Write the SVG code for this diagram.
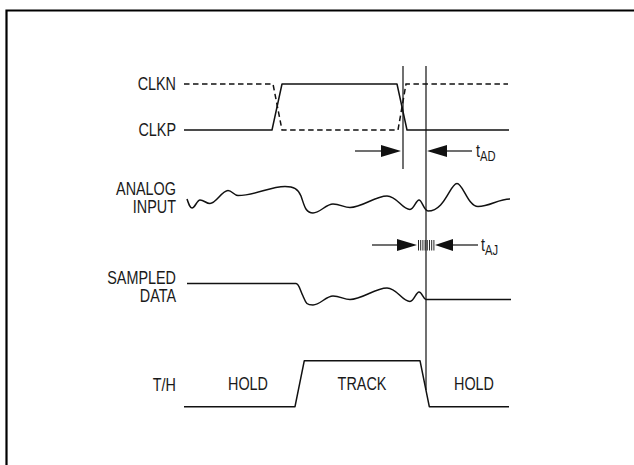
<svg xmlns="http://www.w3.org/2000/svg" width="634" height="465" viewBox="0 0 634 465">
<style>
text{font-family:"Liberation Sans",Arial,sans-serif;font-size:18px;fill:#1a1a1a}
.lbl{text-anchor:end}
.ctr{text-anchor:middle}
.sub{font-size:14px}
.w{fill:none;stroke:#111;stroke-width:1.5;stroke-linejoin:round}
.d{fill:none;stroke:#111;stroke-width:1.5;stroke-dasharray:5.5 3.5}
.v{fill:none;stroke:#111;stroke-width:1.2}
.a{fill:#111}
.h{stroke:#111;stroke-width:0.9}
</style>
<rect width="634" height="465" fill="#fff"/>
<path d="M6.5,470 V10.5 H640" fill="none" stroke="#000" stroke-width="2.2"/>

<g id="labels">
<text class="lbl" transform="translate(176,90) scale(0.8,1)">CLKN</text>
<text class="lbl" transform="translate(176,136) scale(0.8,1)">CLKP</text>
<text class="lbl" transform="translate(176,195) scale(0.8,1)">ANALOG</text>
<text class="lbl" transform="translate(176,213) scale(0.8,1)">INPUT</text>
<text class="lbl" transform="translate(176,284) scale(0.8,1)">SAMPLED</text>
<text class="lbl" transform="translate(176,302) scale(0.8,1)">DATA</text>
<text class="lbl" transform="translate(176,391) scale(0.8,1)">T/H</text>
</g>

<g id="clkn">
<path class="d" d="M184,84 H273 L282,130 H398 L406,84 H508"/>
</g>
<g id="clkp">
<path class="w" d="M184,130 H272 L282,84 H397 L407,130 H509"/>
</g>

<g id="analog">
<path class="w" d="M187,199 C189,205 190,208 192,208 C195,208 197,200 200,200 C204,200 206,203.5 210,203.5 C216,203.5 222,190.5 228,190.5 C232,190.5 234,195.5 238,195.5 C255,195.5 270,186.5 285,186.5 C294,186.5 298,189 301,196 C304,204 305,213 313,213 C320,213 326,204 333,204 C340,204 344,207.5 350,207.5 C362,207.5 375,196 387,196 C397,196 402,209.5 410,209.5 C414,209.5 416,200 419,200 C422,200 424,211 428,211 C445,211 450,183.5 457,183.5 C463,183.5 468,206.5 478,206.5 C490,206.5 498,199 510,199"/>
</g>

<g id="sampled">
<path class="w" d="M187,283.5 H296 C299,283.5 300,290 303,296 C306,303 306,305 313,305 C320,305 326,296 333,296 C340,296 344,299.5 350,299.5 C362,299.5 375,288 387,288 C397,288 402,301.5 410,301.5 C414,301.5 416,292 419,292 C422,292 423,299 426,299.5 H511"/>
</g>

<g id="th">
<path class="w" d="M184,406.7 H295 L304.3,360.7 H420 L429.3,406.7 H509"/>
<text class="ctr" transform="translate(248,390) scale(0.8,1)">HOLD</text>
<text class="ctr" transform="translate(362,390) scale(0.8,1)">TRACK</text>
<text class="ctr" transform="translate(474,390) scale(0.8,1)">HOLD</text>
</g>

<g id="connectors">
<line class="v" x1="403" y1="66" x2="403" y2="169"/>
<line class="v" x1="426" y1="66" x2="426" y2="390"/>
<line class="v" x1="355" y1="151" x2="385" y2="151"/>
<polygon class="a" points="401,151 381,145 381,157"/>
<polygon class="a" points="427,151 447,145 447,157"/>
<line class="v" x1="443" y1="151" x2="472" y2="151"/>
<line class="v" x1="372" y1="245" x2="400" y2="245"/>
<polygon class="a" points="417,245 397,239 397,251"/>
<polygon class="a" points="435,245 453,239 453,251"/>
<line class="v" x1="450" y1="245" x2="478" y2="245"/>
<g class="h">
<line x1="418.5" y1="240" x2="418.5" y2="250.5"/>
<line x1="420.7" y1="240" x2="420.7" y2="250.5"/>
<line x1="422.9" y1="240" x2="422.9" y2="250.5"/>
<line x1="425.1" y1="240" x2="425.1" y2="250.5"/>
<line x1="427.3" y1="240" x2="427.3" y2="250.5"/>
<line x1="429.5" y1="240" x2="429.5" y2="250.5"/>
<line x1="431.7" y1="240" x2="431.7" y2="250.5"/>
<line x1="433.9" y1="240" x2="433.9" y2="250.5"/>
</g>
</g>

<g id="tAD">
<text transform="translate(476,157) scale(0.8,1)">t<tspan class="sub" dy="4">AD</tspan></text>
</g>
<g id="tAJ">
<text transform="translate(481,251) scale(0.8,1)">t<tspan class="sub" dy="4">AJ</tspan></text>
</g>
</svg>
